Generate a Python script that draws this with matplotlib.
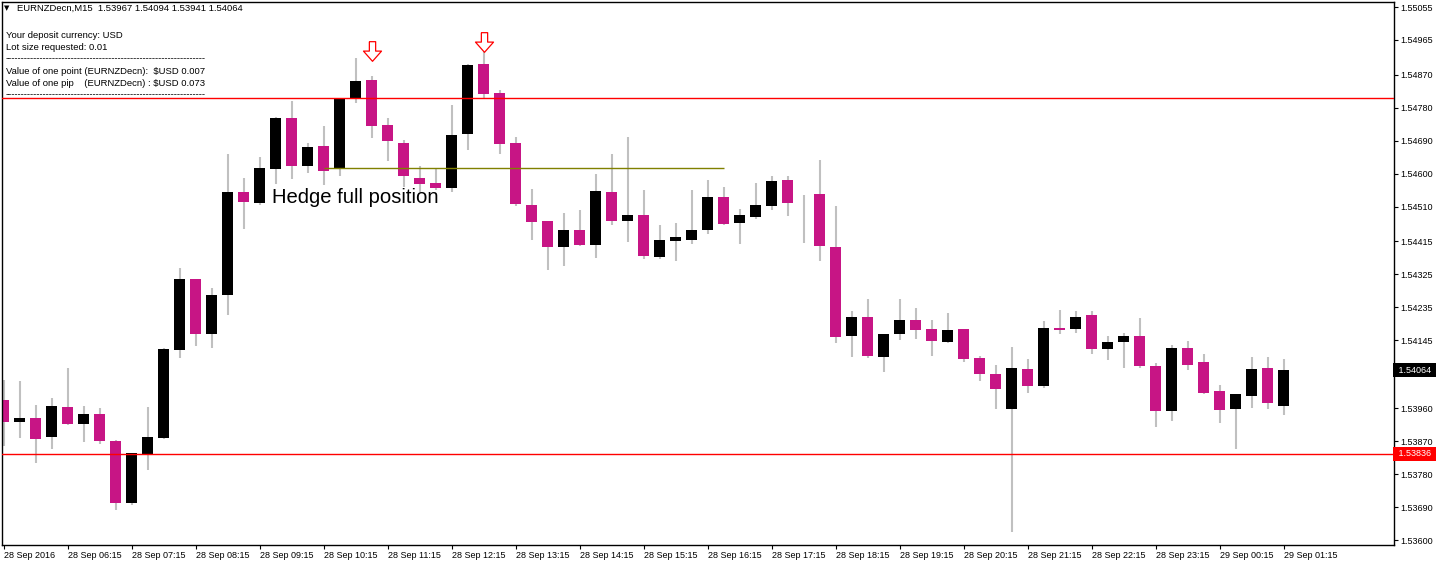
import numpy as np
import matplotlib
matplotlib.use('Agg')
import matplotlib.pyplot as plt
from matplotlib.path import Path

# EURNZDecn M15 bars, 28 Sep 05:15 .. 29 Sep 01:15
opens = [
    1.53982, 1.53922, 1.53933, 1.53881, 1.53963, 1.53917, 1.53944, 1.53870, 1.53701, 1.53835,
    1.53878, 1.54119, 1.54313, 1.54162, 1.54269, 1.54550, 1.54520, 1.54613, 1.54752, 1.54621,
    1.54676, 1.54613, 1.54807, 1.54856, 1.54733, 1.54684, 1.54588, 1.54575, 1.54561, 1.54708,
    1.54899, 1.54820, 1.54684, 1.54515, 1.54471, 1.54400, 1.54446, 1.54405, 1.54550, 1.54471,
    1.54487, 1.54373, 1.54416, 1.54419, 1.54446, 1.54536, 1.54465, 1.54482, 1.54512, 1.54583,
    1.54500, 1.54545, 1.54400, 1.54157, 1.54209, 1.54100, 1.54162, 1.54201, 1.54176, 1.54141,
    1.54176, 1.54097, 1.54053, 1.53958, 1.54067, 1.54020, 1.54179, 1.54176, 1.54214, 1.54121,
    1.54141, 1.54157, 1.54075, 1.53952, 1.54124, 1.54086, 1.54007, 1.53958, 1.53993, 1.54070,
    1.53967]
highs = [
    1.54037, 1.54034, 1.53969, 1.53988, 1.54070, 1.53966, 1.53960, 1.53873, 1.53838, 1.53963,
    1.54124, 1.54343, 1.54313, 1.54288, 1.54654, 1.54588, 1.54646, 1.54755, 1.54798, 1.54684,
    1.54730, 1.54804, 1.54916, 1.54867, 1.54752, 1.54692, 1.54621, 1.54616, 1.54788, 1.54899,
    1.54979, 1.54829, 1.54700, 1.54558, 1.54471, 1.54493, 1.54501, 1.54599, 1.54654, 1.54700,
    1.54556, 1.54460, 1.54465, 1.54556, 1.54583, 1.54564, 1.54504, 1.54575, 1.54594, 1.54594,
    1.54542, 1.54637, 1.54512, 1.54225, 1.54258, 1.54162, 1.54258, 1.54233, 1.54201, 1.54220,
    1.54176, 1.54102, 1.54078, 1.54127, 1.54094, 1.54198, 1.54228, 1.54225, 1.54225, 1.54157,
    1.54165, 1.54206, 1.54083, 1.54132, 1.54143, 1.54108, 1.54023, 1.53999, 1.54100, 1.54100,
    1.54094]
lows = [
    1.53857, 1.53878, 1.53810, 1.53848, 1.53914, 1.53868, 1.53862, 1.53682, 1.53696, 1.53791,
    1.53876, 1.54097, 1.54130, 1.54124, 1.54214, 1.54449, 1.54515, 1.54572, 1.54586, 1.54602,
    1.54569, 1.54594, 1.54793, 1.54697, 1.54635, 1.54564, 1.54550, 1.54556, 1.54550, 1.54665,
    1.54807, 1.54654, 1.54512, 1.54419, 1.54337, 1.54348, 1.54403, 1.54370, 1.54460, 1.54414,
    1.54367, 1.54367, 1.54362, 1.54408, 1.54435, 1.54460, 1.54408, 1.54476, 1.54501, 1.54485,
    1.54411, 1.54362, 1.54138, 1.54100, 1.54097, 1.54059, 1.54146, 1.54149, 1.54102, 1.54138,
    1.54086, 1.54034, 1.53958, 1.53622, 1.54001, 1.54015, 1.54162, 1.54165, 1.54108, 1.54091,
    1.54070, 1.54070, 1.53908, 1.53925, 1.54064, 1.53999, 1.53919, 1.53848, 1.53960, 1.53958,
    1.53941]
closes = [
    1.53922, 1.53933, 1.53876, 1.53966, 1.53917, 1.53944, 1.53870, 1.53701, 1.53838, 1.53881,
    1.54121, 1.54313, 1.54162, 1.54269, 1.54550, 1.54523, 1.54616, 1.54752, 1.54621, 1.54673,
    1.54607, 1.54804, 1.54853, 1.54730, 1.54689, 1.54594, 1.54572, 1.54561, 1.54706, 1.54897,
    1.54818, 1.54681, 1.54517, 1.54468, 1.54400, 1.54446, 1.54405, 1.54553, 1.54471, 1.54487,
    1.54375, 1.54419, 1.54427, 1.54446, 1.54536, 1.54463, 1.54487, 1.54515, 1.54580, 1.54520,
    1.54500, 1.54403, 1.54154, 1.54209, 1.54102, 1.54162, 1.54201, 1.54173, 1.54143, 1.54173,
    1.54094, 1.54053, 1.54012, 1.54070, 1.54020, 1.54179, 1.54173, 1.54209, 1.54121, 1.54141,
    1.54157, 1.54075, 1.53952, 1.54124, 1.54078, 1.54001, 1.53955, 1.53999, 1.54067, 1.53974,
    1.54064]

time_ticks = [0, 4, 8, 12, 16, 20, 24, 28, 32, 36, 40, 44, 48, 52, 56, 60, 64, 68, 72, 76, 80]
time_labels = ['28 Sep 2016', '28 Sep 06:15', '28 Sep 07:15', '28 Sep 08:15', '28 Sep 09:15',
               '28 Sep 10:15', '28 Sep 11:15', '28 Sep 12:15', '28 Sep 13:15', '28 Sep 14:15',
               '28 Sep 15:15', '28 Sep 16:15', '28 Sep 17:15', '28 Sep 18:15', '28 Sep 19:15',
               '28 Sep 20:15', '28 Sep 21:15', '28 Sep 22:15', '28 Sep 23:15', '29 Sep 00:15',
               '29 Sep 01:15']
price_ticks = [1.55055, 1.54965, 1.54870, 1.54780, 1.54690, 1.54600, 1.54510, 1.54415,
               1.54325, 1.54235, 1.54145, 1.53960, 1.53870, 1.53780, 1.53690, 1.53600]

red_levels = [1.54807, 1.53836]
hedge_level = 1.54616
hedge_span = [20, 45]
arrow_bars = [23, 30]
arrow_prices = [1.54935, 1.54960]
hedge_text_pos = (16.8, 1.54520)

info_lines = ['Your deposit currency: USD',
              'Lot size requested: 0.01',
              '-' * 64,
              'Value of one point (EURNZDecn):  \\$USD 0.007',
              'Value of one pip    (EURNZDecn) : \\$USD 0.073',
              '-' * 64]

BULL = '#000000'
BEAR = '#C71585'
WICK = '#C0C0C0'
fs = 6.5
fam = ['Liberation Sans', 'DejaVu Sans']

W, H = 1436, 562
fig = plt.figure(figsize=(W / 100, H / 100), dpi=100)
ax = fig.add_axes([2 / W, (H - 545) / H, 1392 / W, 543 / H])

x = np.arange(len(opens))
o = np.array(opens)
c = np.array(closes)
cols = [BULL if cc > oo else BEAR for oo, cc in zip(o, c)]

ax.vlines(x, lows, highs, color=WICK, lw=1.5, zorder=1)
ax.bar(x, c - o, bottom=o, width=0.69, color=cols, linewidth=0, zorder=2)

for lv in red_levels:
    ax.axhline(lv, color='#FF0000', lw=1.0, zorder=3)
ax.hlines(hedge_level, hedge_span[0], hedge_span[1], color='#808000', lw=1.0, zorder=3)

# hollow down arrows
arrow = Path([(-0.16, 0.5), (0.16, 0.5), (0.16, 0.02), (0.46, 0.02), (0.0, -0.5),
              (-0.46, 0.02), (-0.16, 0.02), (-0.16, 0.5)])
ax.scatter(arrow_bars, arrow_prices, marker=arrow, s=200, facecolor='white',
           edgecolor='#FF0000', linewidth=0.9, zorder=4)

ax.text(hedge_text_pos[0], hedge_text_pos[1], 'Hedge full position', fontsize=14.6,
        family=fam, va='baseline', ha='left', zorder=5)

ax.set_xlim(-0.094, 86.9)
ax.set_ylim(1.535864, 1.550687)

ax.yaxis.tick_right()
ax.set_yticks(price_ticks)
ax.set_yticklabels(['%.5f' % p for p in price_ticks])
ax.set_xticks(time_ticks)
ax.set_xticklabels(time_labels)
ax.tick_params(axis='both', direction='out', length=3, width=0.8, labelsize=fs, pad=1.5)
for lbl in ax.get_xticklabels():
    lbl.set_ha('left')
    lbl.set_family(fam)
for lbl in ax.get_yticklabels():
    lbl.set_family(fam)
for sp in ax.spines.values():
    sp.set_linewidth(1.0)
    sp.set_color('black')

# price tags on the axis
ax.text(1.0012, closes[-1], ' %.5f ' % closes[-1], transform=ax.get_yaxis_transform(),
        fontsize=fs, family=fam, color='white', va='center', ha='left',
        bbox=dict(fc='black', ec='none', pad=1.8), zorder=6, clip_on=False)
ax.text(1.0012, red_levels[1], ' %.5f ' % red_levels[1], transform=ax.get_yaxis_transform(),
        fontsize=fs, family=fam, color='white', va='center', ha='left',
        bbox=dict(fc='#FF0000', ec='none', pad=1.8), zorder=6, clip_on=False)

# header and info block
fig.text(4 / W, 1 - 8 / H, '\u25BC', fontsize=5, family=['DejaVu Sans'], va='center')
fig.text(17 / W, 1 - 8 / H,
         'EURNZDecn,M15  %.5f %.5f %.5f %.5f' % (opens[-1], highs[-1], lows[-1], closes[-1]),
         fontsize=6.8, family=fam, va='center')
for i, line in enumerate(info_lines):
    fig.text(6 / W, 1 - (35 + 12 * i) / H, line, fontsize=6.8, family=fam, va='center')

fig.savefig('out.png', dpi=100, facecolor='white')
